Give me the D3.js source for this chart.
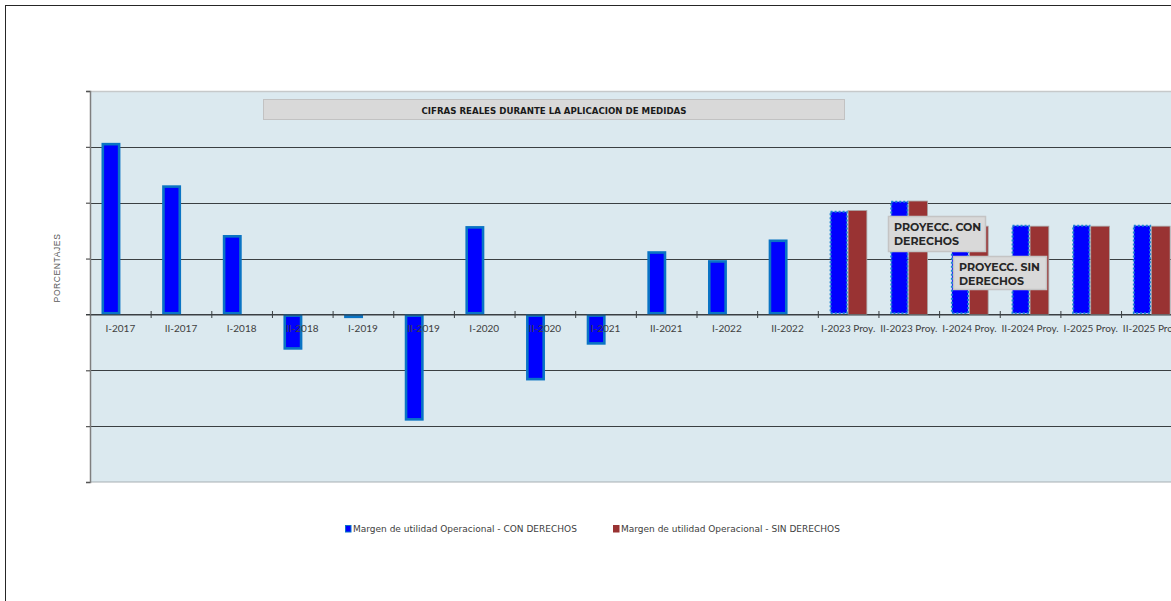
<!DOCTYPE html>
<html>
<head>
<meta charset="utf-8">
<script src="https://cdn.jsdelivr.net/npm/d3@7"></script>
<style>
  html, body { margin: 0; padding: 0; background: #ffffff; }
  svg { display: block; }
</style>
</head>
<body>
<svg id="chart" width="1171" height="601"></svg>
<script>
// Periods (semesters); the last six are projections
const categories = [
  "I-2017", "II-2017", "I-2018", "II-2018", "I-2019", "II-2019",
  "I-2020", "II-2020", "I-2021", "II-2021", "I-2022", "II-2022",
  "I-2023 Proy.", "II-2023 Proy.", "I-2024 Proy.", "II-2024 Proy.",
  "I-2025 Proy.", "II-2025 Proy."
];
const projected = [false, false, false, false, false, false,
  false, false, false, false, false, false,
  true, true, true, true, true, true];

// Operating margin (percentage points), with duties
const conDerechos = [3.07, 2.31, 1.42, -0.63, -0.05, -1.90,
  1.58, -1.18, -0.54, 1.13, 0.97, 1.34,
  1.86, 2.04, 1.58, 1.61, 1.61, 1.61];
// Operating margin, without duties (projections only)
const sinDerechos = [null, null, null, null, null, null,
  null, null, null, null, null, null,
  1.86, 2.03, 1.58, 1.58, 1.58, 1.58];

const yTicks = [-3, -2, -1, 0, 1, 2, 3, 4];
const seriesNames = ["Margen de utilidad Operacional - CON DERECHOS",
  "Margen de utilidad Operacional - SIN DERECHOS"];

const svg = d3.select("#chart");

// outer chart frame
svg.append("rect")
  .attr("x", 5.5).attr("y", 5.5)
  .attr("width", 1400).attr("height", 800)
  .attr("fill", "#ffffff").attr("stroke", "#262626").attr("stroke-width", 1);

const plot = { left: 90, top: 91, bottom: 482, step: 60.65 };
plot.right = plot.left + plot.step * categories.length;

const x = d3.scaleBand().domain(categories).range([plot.left, plot.right]).padding(0);
const x1 = d3.scaleBand().domain(["con", "sin"])
  .range([11.6, x.bandwidth() - 11.6]).padding(0);
const y = d3.scaleLinear().domain([-3, 4]).range([plot.bottom, plot.top]);

// plot background
svg.append("rect")
  .attr("x", plot.left).attr("y", plot.top)
  .attr("width", plot.right - plot.left).attr("height", plot.bottom - plot.top)
  .attr("fill", "#dbe9ef");
svg.append("line")
  .attr("x1", plot.left - 3).attr("x2", plot.right)
  .attr("y1", plot.top + 0.5).attr("y2", plot.top + 0.5)
  .attr("stroke", "#c6c9ca").attr("stroke-width", 1.5);

// horizontal gridlines
svg.append("g").selectAll("line")
  .data(yTicks.filter(t => t > -3 && t < 4))
  .join("line")
  .attr("x1", plot.left).attr("x2", plot.right)
  .attr("y1", d => Math.round(y(d)) + 0.5).attr("y2", d => Math.round(y(d)) + 0.5)
  .attr("stroke", "#3a3f42").attr("stroke-width", 1);
svg.append("line")
  .attr("x1", plot.left).attr("x2", plot.right)
  .attr("y1", plot.bottom).attr("y2", plot.bottom)
  .attr("stroke", "#a7b0b4").attr("stroke-width", 1.2);

// y axis (no labels)
const yAxis = d3.axisLeft(y).tickValues(yTicks).tickSize(4).tickFormat("");
const gy = svg.append("g").attr("transform", `translate(${plot.left},0)`).call(yAxis);
gy.select(".domain").attr("stroke", "#7f7f7f").attr("stroke-width", 1.5);
gy.selectAll(".tick line").attr("stroke", "#555").attr("stroke-width", 1.2);

// bars: with duties
const g = svg.append("g");
g.selectAll("rect.con")
  .data(categories.map((c, i) => ({ c, v: conDerechos[i], p: projected[i] })))
  .join("rect")
  .attr("class", "con")
  .attr("x", d => x(d.c) + x1("con") + 1.2)
  .attr("width", x1.bandwidth() - 2.4)
  .attr("y", d => Math.min(y(d.v), y(0)) + 1.2)
  .attr("height", d => Math.max(Math.abs(y(d.v) - y(0)) - 2.4, 1.2))
  .attr("fill", "#0000ff")
  .attr("stroke", d => d.p ? "#1a86d0" : "#0a74c4")
  .attr("stroke-width", d => d.p ? 2 : 2.6)
  .attr("stroke-dasharray", d => d.p ? "2,2" : null);

// bars: without duties
g.selectAll("rect.sin")
  .data(categories.map((c, i) => ({ c, v: sinDerechos[i] })).filter(d => d.v !== null))
  .join("rect")
  .attr("class", "sin")
  .attr("x", d => x(d.c) + x1("sin"))
  .attr("width", x1.bandwidth())
  .attr("y", d => Math.min(y(d.v), y(0)))
  .attr("height", d => Math.abs(y(d.v) - y(0)))
  .attr("fill", "#993333")
  .attr("stroke", "#a7a2a2").attr("stroke-width", 0.8);

// x axis along the zero line
const xAxis = d3.axisBottom(x).tickSize(0).tickSizeOuter(0);
const gx = svg.append("g").attr("transform", `translate(0,${Math.round(y(0)) + 0.5})`).call(xAxis);
gx.select(".domain").attr("stroke", "#3a3f42").attr("stroke-width", 1.2);
gx.selectAll(".tick text")
  .attr("dy", 0).attr("y", 17.5)
  .attr("font-family", "Lato, 'Open Sans', sans-serif")
  .attr("font-size", 10).attr("fill", "#404040");
// category separators
svg.append("g").selectAll("line")
  .data(categories.slice(1))
  .join("line")
  .attr("x1", d => x(d) + 0.5).attr("x2", d => x(d) + 0.5)
  .attr("y1", Math.round(y(0)) - 3).attr("y2", Math.round(y(0)) + 4)
  .attr("stroke", "#3a3f42").attr("stroke-width", 1);
// left tick of zero line
svg.append("line").attr("x1", plot.left - 4).attr("x2", plot.left)
  .attr("y1", Math.round(y(0)) + 0.5).attr("y2", Math.round(y(0)) + 0.5)
  .attr("stroke", "#3a3f42");

// y axis title
svg.append("text")
  .attr("transform", `translate(60,268) rotate(-90)`)
  .attr("text-anchor", "middle")
  .attr("font-family", "'Liberation Sans', Arial, sans-serif")
  .attr("font-size", 8.5).attr("letter-spacing", 0.6)
  .attr("fill", "#595959")
  .text("PORCENTAJES");

// header box over the historical period
svg.append("rect")
  .attr("x", 263.5).attr("y", 99.5).attr("width", 581).attr("height", 20)
  .attr("fill", "#d9d9d9").attr("stroke", "#c2c2c2").attr("stroke-width", 1);
svg.append("text")
  .attr("x", 554).attr("y", 113.5).attr("text-anchor", "middle")
  .attr("font-family", "'DejaVu Sans Condensed', 'DejaVu Sans', sans-serif")
  .attr("font-weight", "bold").attr("font-size", 8.6).attr("fill", "#1a1a1a")
  .attr("textLength", 265).attr("lengthAdjust", "spacingAndGlyphs")
  .text("CIFRAS REALES DURANTE LA APLICACION DE MEDIDAS");

// projection callouts
const callouts = [
  { x: 888, y: 216, w: 97, h: 35, lines: ["PROYECC. CON", "DERECHOS"] },
  { x: 953, y: 256, w: 93, h: 33, lines: ["PROYECC. SIN", "DERECHOS"] }
];
callouts.forEach(c => {
  svg.append("rect")
    .attr("x", c.x + 0.5).attr("y", c.y + 0.5).attr("width", c.w).attr("height", c.h)
    .attr("fill", "#d9d9d9").attr("stroke", "#c4c4c4").attr("stroke-width", 1.5);
  c.lines.forEach((t, i) => {
    svg.append("text")
      .attr("x", c.x + 6).attr("y", c.y + 14.5 + i * 14)
      .attr("font-family", "Montserrat, 'Open Sans', Lato, sans-serif")
      .attr("font-weight", "bold").attr("font-size", 11).attr("fill", "#262626")
      .text(t);
  });
});

// legend
const legend = [
  { x: 345, fill: "#0000ff", stroke: "#0a74c4", name: seriesNames[0] },
  { x: 613, fill: "#993333", stroke: "#993333", name: seriesNames[1] }
];
legend.forEach(l => {
  svg.append("rect")
    .attr("x", l.x + 0.5).attr("y", 525.5).attr("width", 5.5).attr("height", 6.5)
    .attr("fill", l.fill).attr("stroke", l.stroke).attr("stroke-width", 1);
  svg.append("text")
    .attr("x", l.x + 8).attr("y", 532)
    .attr("font-family", "'DejaVu Sans', Tahoma, sans-serif")
    .attr("font-size", 9).attr("fill", "#404040")
    .text(l.name);
});
</script>
</body>
</html>
